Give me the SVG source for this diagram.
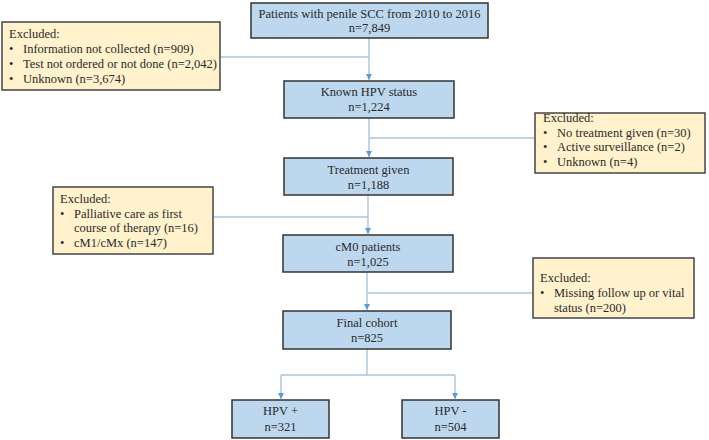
<svg xmlns="http://www.w3.org/2000/svg" width="709" height="440" viewBox="0 0 709 440">
<defs>
<style>
.box{fill:#bdd7ee;stroke:#333;stroke-width:1.5}
.exc{fill:#fff2cc;stroke:#444;stroke-width:1.5}
.t{font-size:12.5px;fill:#2a2a2a}
.c{text-anchor:middle}
.ln{fill:none;stroke:#a9c4dd;stroke-width:1.4}
</style>
<marker id="ah" viewBox="0 0 10 10" refX="10" refY="5" markerWidth="6" markerHeight="6" orient="auto" markerUnits="userSpaceOnUse">
<path d="M0,0 L10,5 L0,10 z" fill="#5b9bd5"/>
</marker>
</defs>
<rect width="709" height="440" fill="#fff"/>
<g id="connectors">
<path class="ln" d="M369,38 V80" marker-end="url(#ah)"/>
<path class="ln" d="M220,57 H369"/>
<path class="ln" d="M369,118 V157" marker-end="url(#ah)"/>
<path class="ln" d="M369,138 H535"/>
<path class="ln" d="M368,195 V234" marker-end="url(#ah)"/>
<path class="ln" d="M213,217 H368"/>
<path class="ln" d="M367,272 V310" marker-end="url(#ah)"/>
<path class="ln" d="M367,293 H533"/>
<path class="ln" d="M367,349 V375"/>
<path class="ln" d="M281,375 H455"/>
<path class="ln" d="M281,375 V399" marker-end="url(#ah)"/>
<path class="ln" d="M455,375 V399" marker-end="url(#ah)"/>
</g>
<g font-family="'Liberation Serif', 'Times New Roman', Times, serif">
<g id="n1">
<rect class="box" x="251" y="3" width="237" height="35"/>
<text class="t c" x="369.5" y="18">Patients with penile SCC from 2010 to 2016</text>
<text class="t c" x="369.5" y="32">n=7,849</text>
</g>
<g id="ex1">
<rect class="exc" x="2" y="22" width="218" height="68"/>
<text class="t" x="9" y="38">Excluded:</text>
<text class="t" x="9" y="53">•</text><text class="t" x="23" y="53">Information not collected (n=909)</text>
<text class="t" x="9" y="68">•</text><text class="t" x="23" y="68">Test not ordered or not done (n=2,042)</text>
<text class="t" x="9" y="83">•</text><text class="t" x="23" y="83">Unknown (n=3,674)</text>
</g>
<g id="n2">
<rect class="box" x="284" y="81" width="170" height="37"/>
<text class="t c" x="369" y="96">Known HPV status</text>
<text class="t c" x="369" y="111">n=1,224</text>
</g>
<g id="ex2">
<rect class="exc" x="535" y="113" width="170" height="60"/>
<text class="t" x="543" y="122">Excluded:</text>
<text class="t" x="543" y="137">•</text><text class="t" x="557" y="137">No treatment given (n=30)</text>
<text class="t" x="543" y="151">•</text><text class="t" x="557" y="151">Active surveillance (n=2)</text>
<text class="t" x="543" y="166">•</text><text class="t" x="557" y="166">Unknown (n=4)</text>
</g>
<g id="n3">
<rect class="box" x="284" y="158" width="169" height="37"/>
<text class="t c" x="368.5" y="174">Treatment given</text>
<text class="t c" x="368.5" y="189">n=1,188</text>
</g>
<g id="ex3">
<rect class="exc" x="53" y="187" width="160" height="67"/>
<text class="t" x="60" y="203">Excluded:</text>
<text class="t" x="60" y="218">•</text><text class="t" x="74" y="218">Palliative care as first</text>
<text class="t" x="74" y="232">course of therapy (n=16)</text>
<text class="t" x="60" y="247">•</text><text class="t" x="74" y="247">cM1/cMx (n=147)</text>
</g>
<g id="n4">
<rect class="box" x="283" y="235" width="170" height="37"/>
<text class="t c" x="368" y="251">cM0 patients</text>
<text class="t c" x="368" y="266">n=1,025</text>
</g>
<g id="ex4">
<rect class="exc" x="533" y="258" width="161" height="60"/>
<text class="t" x="540" y="282">Excluded:</text>
<text class="t" x="540" y="297">•</text><text class="t" x="554" y="297">Missing follow up or vital</text>
<text class="t" x="554" y="312">status (n=200)</text>
</g>
<g id="n5">
<rect class="box" x="283" y="311" width="168" height="38"/>
<text class="t c" x="367" y="327">Final cohort</text>
<text class="t c" x="367" y="342">n=825</text>
</g>
<g id="n6">
<rect class="box" x="232" y="400" width="97" height="38"/>
<text class="t c" x="280.5" y="415">HPV +</text>
<text class="t c" x="280.5" y="431">n=321</text>
</g>
<g id="n7">
<rect class="box" x="402" y="400" width="97" height="38"/>
<text class="t c" x="450.5" y="415">HPV -</text>
<text class="t c" x="450.5" y="431">n=504</text>
</g>
</g>
</svg>
